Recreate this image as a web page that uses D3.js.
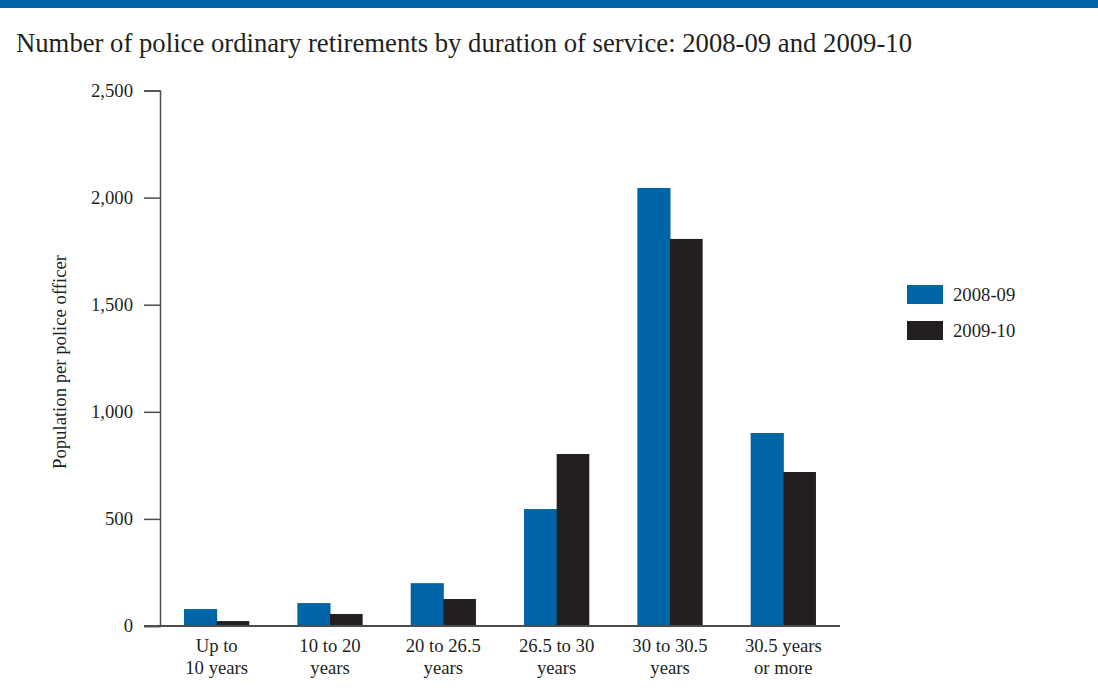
<!DOCTYPE html>
<html><head><meta charset="utf-8">
<script src="https://cdn.jsdelivr.net/npm/d3@7"></script>
<style>
body{margin:0;background:#fff;}
text{font-family:"Liberation Serif","Times New Roman",serif;fill:#231f20;}
</style></head>
<body><svg id="c" width="1098" height="694"></svg>
<script>
const categories = [["Up to","10 years"],["10 to 20","years"],["20 to 26.5","years"],["26.5 to 30","years"],["30 to 30.5","years"],["30.5 years","or more"]];
const seriesNames = ["2008-09","2009-10"];
const values0809 = [79, 107, 200, 546, 2045, 901];
const values0910 = [23, 56, 126, 803, 1807, 719];
const yTicks = [0, 500, 1000, 1500, 2000, 2500];
const colors = ["#0065a6", "#231f20"];

const svg = d3.select("#c");
svg.append("rect").attr("x",0).attr("y",0).attr("width",1098).attr("height",8).attr("fill","#0065a6");
svg.append("text").attr("x",16).attr("y",52).attr("font-size",26.7)
  .text("Number of police ordinary retirements by duration of service: 2008-09 and 2009-10");

const x0 = d3.scaleBand().domain(d3.range(categories.length)).range([160,840]).paddingInner(0.424).paddingOuter(0.212);
const x1 = d3.scaleBand().domain(seriesNames).range([0,x0.bandwidth()]);
const y = d3.scaleLinear().domain([0,2500]).range([626,90.5]);

// bars
const series = [values0809, values0910];
series.forEach((vals, si) => {
  svg.append("g").selectAll("rect").data(vals).join("rect")
    .attr("x",(d,i)=>x0(i)+x1(seriesNames[si]))
    .attr("width",x1.bandwidth()+ (si===0?0.5:0))
    .attr("y",d=>y(d))
    .attr("height",d=>y(0)-y(d))
    .attr("fill",colors[si]);
});

// y axis
const yAxis = d3.axisLeft(y).tickValues(yTicks).tickSize(16).tickPadding(11).tickFormat(d3.format(","));
const ga = svg.append("g").attr("transform","translate(160,0)").call(yAxis);
ga.select(".domain").attr("stroke","#4d4d4d").attr("stroke-width",1.5);
ga.selectAll(".tick line").attr("stroke","#4d4d4d").attr("stroke-width",1.5);
ga.selectAll(".tick text").attr("font-size",18.7).attr("font-family","Liberation Serif").attr("fill","#231f20");

// x baseline
svg.append("line").attr("x1",144).attr("x2",840).attr("y1",y(0)).attr("y2",y(0)).attr("stroke","#4d4d4d").attr("stroke-width",1.8);

// x labels
categories.forEach((lines,i)=>{
  const cx = x0(i)+x0.bandwidth()/2;
  const t = svg.append("text").attr("text-anchor","middle").attr("font-size",18.7);
  lines.forEach((l,j)=>t.append("tspan").attr("x",cx).attr("y",652+j*21.5).text(l));
});

// y label
svg.append("text").attr("transform","translate(66,362) rotate(-90)").attr("text-anchor","middle").attr("font-size",18.7)
  .text("Population per police officer");

// legend
seriesNames.forEach((n,i)=>{
  svg.append("rect").attr("x",907).attr("y",285+i*36).attr("width",36).attr("height",19).attr("fill",colors[i]);
  svg.append("text").attr("x",953).attr("y",300.5+i*36).attr("font-size",18.7).text(n);
});
</script></body></html>
